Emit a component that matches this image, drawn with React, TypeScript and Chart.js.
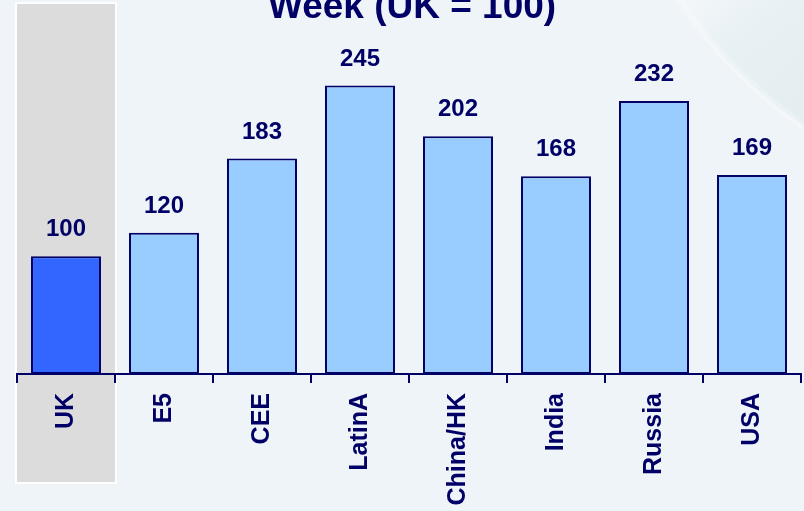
import React, { useEffect, useRef } from "react";
import { Chart, registerables } from "chart.js";

Chart.register(...registerables);

const categories = ["UK", "E5", "CEE", "LatinA", "China/HK", "India", "Russia", "USA"];
const values = [100, 120, 183, 245, 202, 168, 232, 169];
const barColors = ["#3366FF", "#99CCFF", "#99CCFF", "#99CCFF", "#99CCFF", "#99CCFF", "#99CCFF", "#99CCFF"];
const titleText = "Week (UK = 100)";
const highlightIndex = 0;

const NAVY = "#000066";
const FONT = "'Liberation Sans', Arial, Helvetica, sans-serif";

const backgroundPlugin = {
  id: "bgPlugin",
  beforeDraw(chart: any) {
    const { ctx, width, height } = chart;
    ctx.save();
    ctx.fillStyle = "#EFF4F9";
    ctx.fillRect(0, 0, width, height);
    // soft swoosh top-right
    ctx.beginPath();
    ctx.arc(1060, -250, 455, 0, Math.PI * 2);
    ctx.closePath();
    const g = ctx.createLinearGradient(690, 0, 804, 150);
    g.addColorStop(0, "#F2F6F9");
    g.addColorStop(0.35, "#E7F0F3");
    g.addColorStop(1, "#E3EDF1");
    ctx.fillStyle = g;
    ctx.fill();
    ctx.lineWidth = 8;
    ctx.strokeStyle = "rgba(255,255,255,0.25)";
    ctx.stroke();
    // highlight column behind UK
    const xs = chart.scales.x;
    const cx = xs.getPixelForValue(highlightIndex);
    const half = (xs.getPixelForValue(1) - xs.getPixelForValue(0)) / 2;
    ctx.fillStyle = "#FFFFFF";
    ctx.fillRect(cx - half - 2, 2, half * 2 + 4, 482);
    ctx.fillStyle = "#DCDCDC";
    ctx.fillRect(cx - half, 4, half * 2, 478);
    ctx.restore();
  },
};

const labelsPlugin = {
  id: "valueLabels",
  afterDatasetsDraw(chart: any) {
    const { ctx } = chart;
    const meta = chart.getDatasetMeta(0);
    ctx.save();
    ctx.fillStyle = NAVY;
    ctx.font = `bold 24px ${FONT}`;
    ctx.textAlign = "center";
    ctx.textBaseline = "alphabetic";
    meta.data.forEach((bar: any, i: number) => {
      ctx.fillText(String(values[i]), bar.x, bar.y - 20);
    });
    // title (partly cut at top)
    ctx.font = `bold 37px ${FONT}`;
    ctx.fillText(titleText, 412, 18);
    ctx.restore();
  },
};

export default function App() {
  const ref = useRef<HTMLCanvasElement | null>(null);
  useEffect(() => {
    if (!ref.current) return;
    const chart = new Chart(ref.current, {
      type: "bar",
      data: {
        labels: categories,
        datasets: [
          {
            data: values,
            backgroundColor: barColors,
            borderColor: NAVY,
            borderWidth: 2,
            borderSkipped: false,
            barPercentage: 0.714,
            categoryPercentage: 1,
          },
        ],
      },
      options: {
        responsive: false,
        animation: false,
        layout: { padding: { left: 17, right: 3, top: 22, bottom: 0 } },
        plugins: {
          legend: { display: false },
          tooltip: { enabled: false },
          title: { display: false },
        },
        scales: {
          x: {
            offset: true,
            grid: {
              display: true,
              offset: true,
              drawOnChartArea: false,
              drawTicks: true,
              tickLength: 9,
              color: NAVY,
              lineWidth: 2,
            },
            border: { display: true, color: NAVY, width: 2 },
            ticks: {
              autoSkip: false,
              minRotation: 90,
              maxRotation: 90,
              padding: 10,
              color: NAVY,
              font: { family: FONT, size: 25, weight: "bold" },
            },
            afterFit: (s: any) => {
              s.height = 137;
            },
          },
          y: { display: false, min: 0, max: 299 },
        },
      },
      plugins: [backgroundPlugin, labelsPlugin],
    });
    return () => chart.destroy();
  }, []);
  return (
    <div style={{ position: "fixed", left: 0, top: 0, width: 804, height: 511, overflow: "hidden" }}>
      <canvas ref={ref} width={804} height={511} style={{ display: "block" }} />
    </div>
  );
}
